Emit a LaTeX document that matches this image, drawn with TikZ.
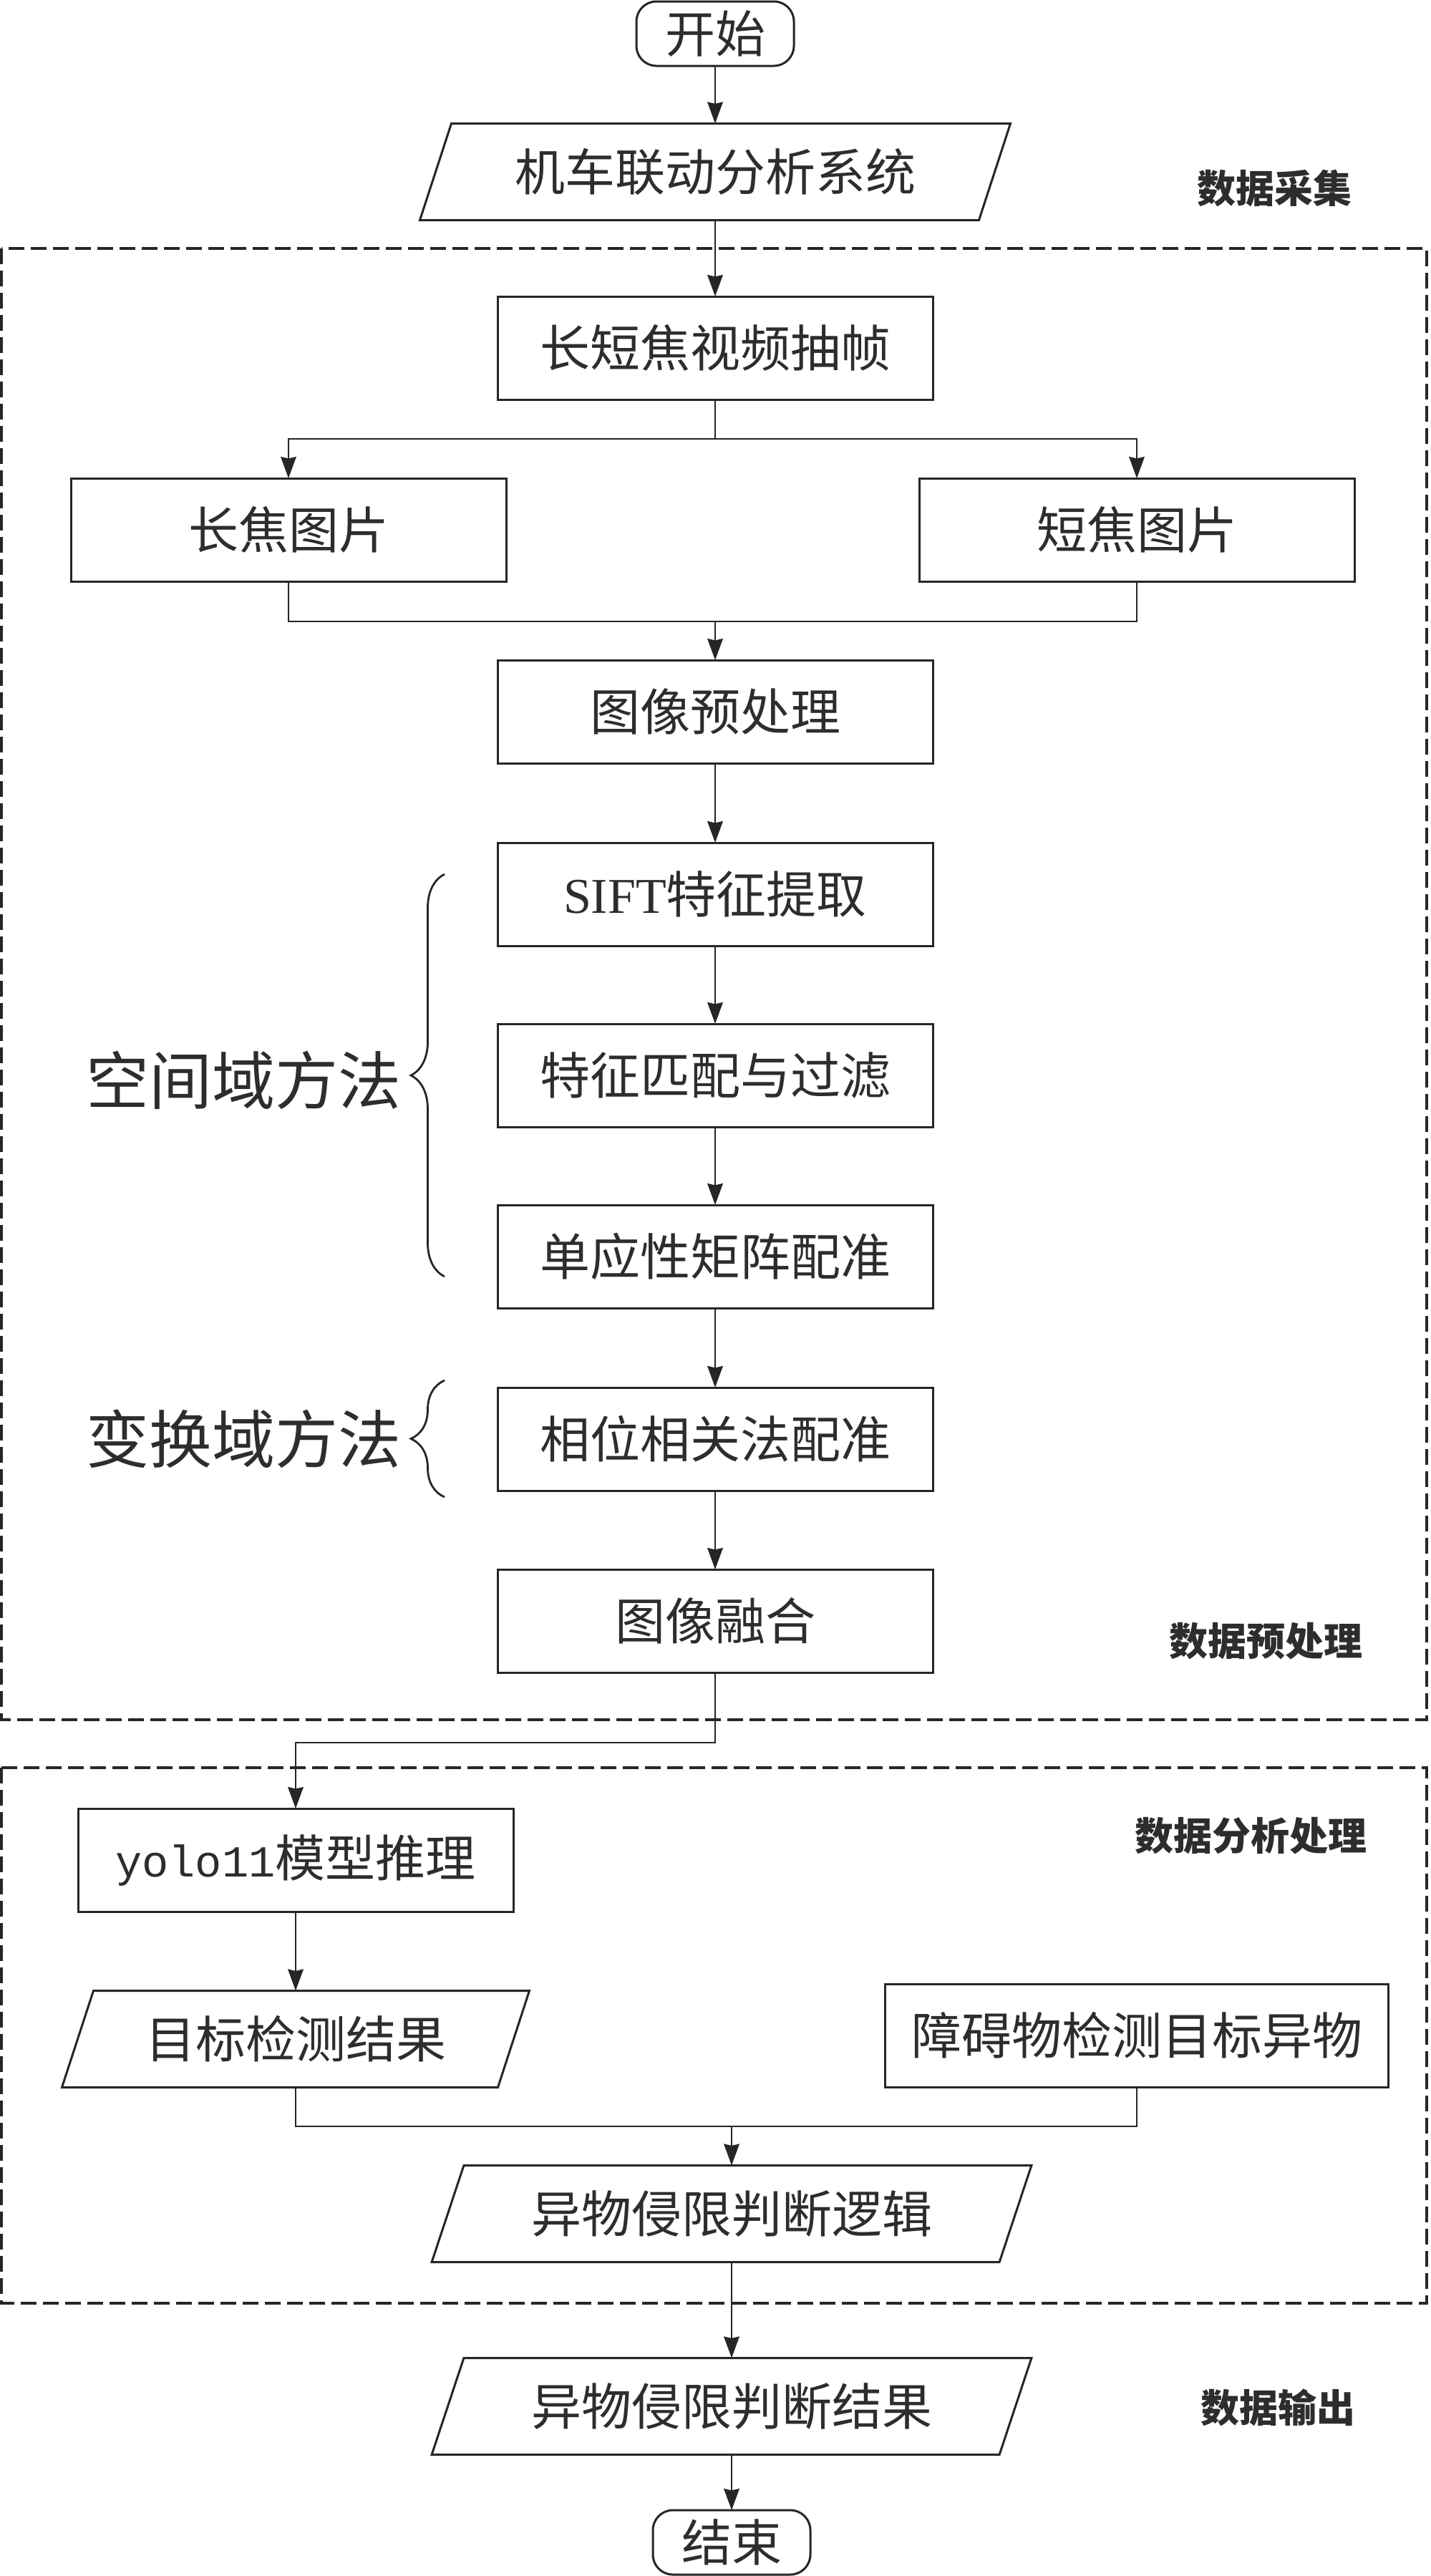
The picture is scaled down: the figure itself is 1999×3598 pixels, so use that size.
\documentclass[tikz,border=0pt]{standalone}
\usepackage{fontspec}
\setmainfont{Noto Sans CJK SC}
\newfontfamily\latserif{Liberation Serif}
\newfontfamily\latmono{Liberation Mono}
\usetikzlibrary{arrows.meta,decorations.pathreplacing}
\definecolor{linec}{RGB}{38,38,38}
\definecolor{txtc}{RGB}{45,45,45}
\newcommand\drawpara[2]{\draw[draw=linec, line width=0.75pt] ([xshift=#2]#1.north west) -- ([xshift=#2]#1.north east) -- ([xshift=-#2]#1.south east) -- ([xshift=-#2]#1.south west) -- cycle;}
\begin{document}
\begin{tikzpicture}[x=0.25pt,y=-0.25pt,
  every node/.style={text=txtc, inner sep=0pt, outer sep=0pt},
  boxfont/.style={font=\fontsize{17.5}{20}\selectfont},
  proc/.style={boxfont, draw=linec, line width=0.75pt, minimum width=152pt, minimum height=36pt},
  term/.style={proc, rounded corners=7pt, minimum width=55pt, minimum height=22.5pt},
  io/.style={boxfont, minimum height=33.75pt},
  conn/.style={draw=linec, line width=0.6pt},
  arr/.style={conn, -{Stealth[length=7.5pt,width=5.4pt,inset=0.6pt]}},
  frame/.style={draw=linec, line width=1pt, dash pattern=on 5.4pt off 2.35pt},
  tag/.style={font=\fontsize{13.5}{16}\selectfont\bfseries},
  big/.style={font=\fontsize{22}{26}\selectfont},
  brc/.style={draw=linec, line width=0.7pt, decorate, decoration={brace, amplitude=11.75pt}}
]
\useasboundingbox (0,0) rectangle (1999,3598);

% frames
\draw[frame] (2,347) rectangle (1993,2402);
\draw[frame] (2,2469) rectangle (1993,3217);

% nodes
\node[term] (start) at (999,47) {开始};
\node[io, minimum width=195.25pt] (sys) at (999,240) {机车联动分析系统};
\drawpara{sys}{5.5pt}
\node[proc] (frames) at (999,486) {长短焦视频抽帧};
\node[proc] (long) at (403,740) {长焦图片};
\node[proc] (short) at (1588,740) {短焦图片};
\node[proc] (pre) at (999,994) {图像预处理};
\node[proc] (sift) at (999,1249) {{\latserif SIFT}特征提取};
\node[proc] (match) at (999,1502) {特征匹配与过滤};
\node[proc] (homo) at (999,1755) {单应性矩阵配准};
\node[proc] (phase) at (999,2010) {相位相关法配准};
\node[proc] (fuse) at (999,2264) {图像融合};
\node[proc] (yolo) at (413,2598) {{\latmono\fontsize{15.5}{18}\selectfont yolo11}模型推理};
\node[io, minimum width=152.25pt] (det) at (413,2848) {目标检测结果};
\drawpara{det}{5.5pt}
\node[proc, minimum width=175.75pt] (obs) at (1588,2843) {障碍物检测目标异物};
\node[io, minimum width=198.25pt] (logic) at (1022,3092) {异物侵限判断逻辑};
\drawpara{logic}{5.6pt}
\node[io, minimum width=198.25pt] (result) at (1022,3361) {异物侵限判断结果};
\drawpara{result}{5.6pt}
\node[term] (end) at (1022,3551) {结束};

% side labels
\node[tag] (t1) at (1780,263) {数据采集};
\node[tag] (t2) at (1768,2292) {数据预处理};
\node[tag] (t3) at (1747,2564) {数据分析处理};
\node[tag] (t4) at (1785,3363) {数据输出};
\node[big] (sp) at (341,1509) {空间域方法};
\node[big] (tr) at (341,2010) {变换域方法};

% braces
\draw[brc] (621,1783) -- (621,1221);
\draw[brc] (621,2091) -- (621,1928);

% connectors
\draw[arr] (start.south) -- (sys.north);
\draw[arr] (sys.south) -- (frames.north);
\coordinate (br) at (999,613);
\draw[conn] (frames.south) -- (br);
\draw[arr] (br) -| (long.north);
\draw[arr] (br) -| (short.north);
\coordinate (mg) at (999,868);
\draw[conn] (long.south) |- (mg) -| (short.south);
\draw[arr] (mg) -- (pre.north);
\draw[arr] (pre.south) -- (sift.north);
\draw[arr] (sift.south) -- (match.north);
\draw[arr] (match.south) -- (homo.north);
\draw[arr] (homo.south) -- (phase.north);
\draw[arr] (phase.south) -- (fuse.north);
\coordinate (tl) at (999,2434);
\draw[arr] (fuse.south) -- (tl) -| (yolo.north);
\draw[arr] (yolo.south) -- (det.north);
\coordinate (mg2) at (1022,2970);
\draw[conn] (det.south) |- (mg2) -| (obs.south);
\draw[arr] (mg2) -- (logic.north);
\draw[arr] (logic.south) -- (result.north);
\draw[arr] (result.south) -- (end.north);
\end{tikzpicture}
\end{document}
